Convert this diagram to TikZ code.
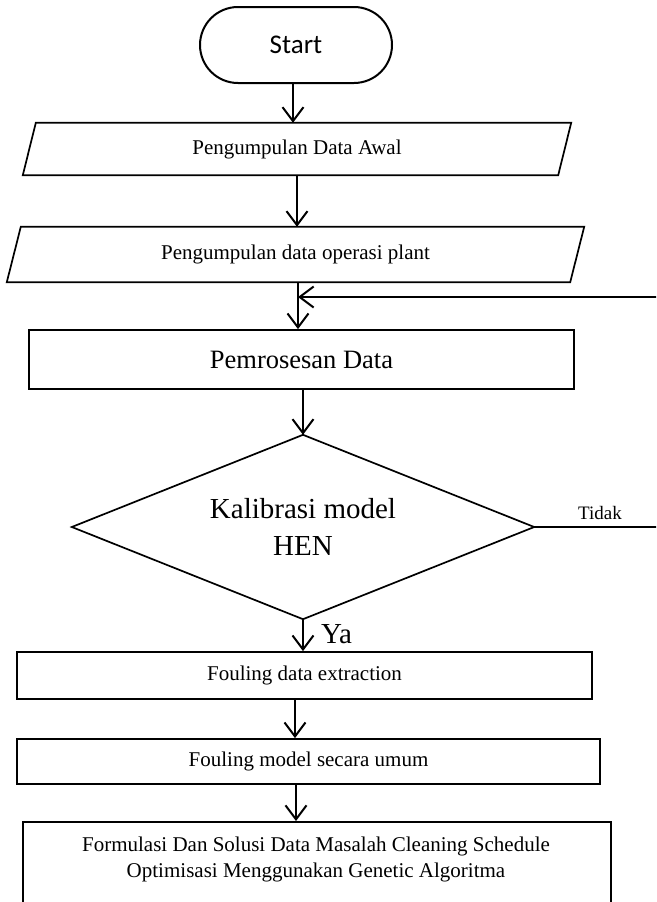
\documentclass[tikz,border=0pt]{standalone}
\usepackage{fontspec}
\setmainfont{Liberation Serif}
\newfontfamily\startfont{Carlito}
\usetikzlibrary{arrows.meta,shapes.geometric,shapes.misc}
\begin{document}
\begin{tikzpicture}[x=1pt,y=-1pt,
  outline/.style={line width=1.7pt, line join=miter},
  arr/.style={line width=2pt, -{Straight Barb[length=14pt,width=21pt]}},
  txt/.style={inner sep=0pt, font=\fontsize{21}{26}\selectfont, align=center},
  boxnode/.style={draw, outline, inner sep=0pt, font=\fontsize{21}{26}\selectfont, align=center},
  paranode/.style={inner sep=0pt, font=\fontsize{21}{26}\selectfont, align=center}
]
\useasboundingbox (0,0) rectangle (656,902);
\clip (0,0) rectangle (656,902);

% Start
\node[draw, rounded rectangle, line width=2pt, minimum width=192, minimum height=76,
      inner sep=0pt, font=\startfont\fontsize{27}{32}\selectfont] (start) at (296,45) {Start};

% Parallelogram 1
\node[paranode, minimum width=535, minimum height=52] (p1) at (297,149) {Pengumpulan Data Awal};
\draw[outline] ([xshift=-6.5pt]p1.south west) -- ([xshift=-6.5pt]p1.south east)
  -- ([xshift=6.5pt]p1.north east) -- ([xshift=6.5pt]p1.north west) -- cycle;

% Parallelogram 2
\node[paranode, minimum width=563, minimum height=55] (p2) at (295.5,254.5) {Pengumpulan data operasi plant};
\draw[outline] ([xshift=-7pt]p2.south west) -- ([xshift=-7pt]p2.south east)
  -- ([xshift=7pt]p2.north east) -- ([xshift=7pt]p2.north west) -- cycle;

% Processing
\node[boxnode, minimum width=545, minimum height=59, font=\fontsize{26.5}{30}\selectfont] (proc) at (301.5,359.5) {Pemrosesan Data};

% Decision
\node[minimum width=462, minimum height=184, inner sep=0pt,
      align=center, font=\fontsize{29}{37}\selectfont] (dia) at (303,527) {Kalibrasi model\\HEN};
\draw[outline] (dia.north) -- (dia.east) -- (dia.south) -- (dia.west) -- cycle;

% Boxes
\node[boxnode, minimum width=575, minimum height=47] (b1) at (304.5,675.5) {Fouling data extraction};
\node[boxnode, minimum width=583, minimum height=45] (b2) at (308.5,761.5) {Fouling model secara umum};
\node[draw, outline, minimum width=588, minimum height=110, inner sep=0pt, anchor=north] (b3) at (317,821) {};
\node[txt, font=\fontsize{21}{26.5}\selectfont] (b3t) at (316,859.5) {Formulasi Dan Solusi Data Masalah Cleaning Schedule\\Optimisasi Menggunakan Genetic Algoritma};

% Labels
\node[inner sep=0pt, anchor=west, font=\fontsize{29}{34}\selectfont] (ya) at (321,634) {Ya};
\node[inner sep=0pt, font=\fontsize{19}{23}\selectfont] (tidak) at (600,513) {Tidak};

% Helper coordinates
\coordinate (j) at (298,297);
\coordinate (r1) at (680,527);
\coordinate (r2) at (680,297);

% Connectors
\draw[arr] ([xshift=-3pt]start.south) -- ([xshift=-3pt]start.south |- p1.north);
\draw[arr] (p1.south) -- (p1.south |- p2.north);
\draw[arr] (p2.south -| j) -- (proc.north -| j);
\draw[arr] (proc.south -| dia.north) -- (dia.north);
\draw[arr] (dia.south) -- (dia.south |- b1.north);
\draw[arr] ([xshift=-9.5pt]b1.south) -- ([xshift=-9.5pt]b1.south |- b2.north);
\draw[arr] ([xshift=-12.5pt]b2.south) -- ([xshift=-12.5pt]b2.south |- b3.north);
\draw[arr] (dia.east) -- (r1) -- (r2) -- (j);
\end{tikzpicture}
\end{document}
